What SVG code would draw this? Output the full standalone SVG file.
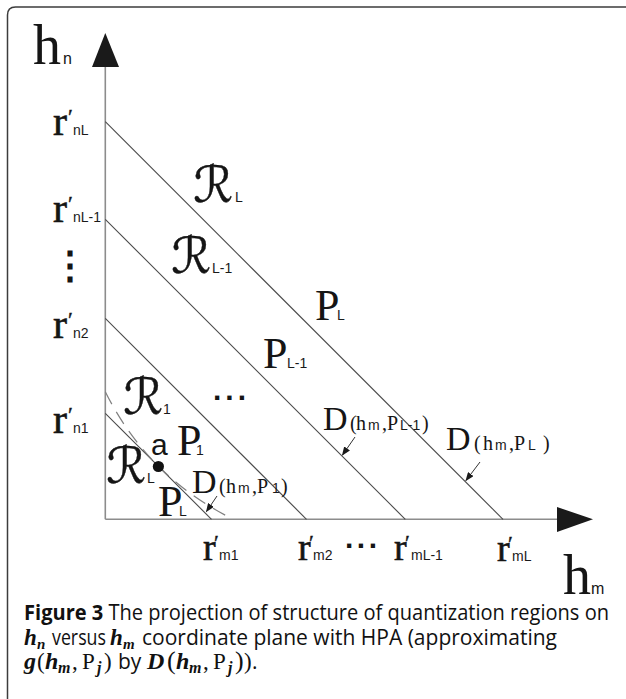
<svg xmlns="http://www.w3.org/2000/svg" width="626" height="699" viewBox="0 0 626 699">
<style>
.frame{fill:none;stroke:#3c3c3c;stroke-width:1.5}
.ax{fill:none;stroke:#8c8c8c;stroke-width:1.6}
.dg{fill:none;stroke:#4a4a4a;stroke-width:1.1}
.ds{fill:none;stroke:#808080;stroke-width:1.2;stroke-dasharray:14 9}
.ld{fill:none;stroke:#333;stroke-width:1}
.head{fill:#1a1a1a}
.sf{font-family:"Liberation Serif","Times New Roman",serif;fill:#151515}
.ss{font-family:"Liberation Sans",Arial,sans-serif;fill:#151515}
.big{font-size:56px}
.rn{font-size:42px;stroke:#151515;stroke-width:0.6}
.rm{font-size:38px;stroke:#151515;stroke-width:0.6}
.pr{font-size:22px;stroke-width:0.4}
.sb{font-family:"Liberation Sans",Arial,sans-serif;font-size:14px;fill:#1a1a1a;stroke:none}
.scr{font-family:"DejaVu Serif","DejaVu Sans",serif;font-size:50px;fill:#151515;stroke:#151515;stroke-width:0.4}
.P{font-size:44px}
.D{font-size:34px}
.fp{font-size:20px}
.cap{font-family:"Open Sans","Liberation Sans",sans-serif;font-size:21px;fill:#111}
.mi{font-family:"Liberation Serif","Times New Roman",serif;font-style:italic;font-weight:bold}
.mu{font-family:"Liberation Serif","Times New Roman",serif}
</style>
<defs>
<marker id="ah" markerWidth="9" markerHeight="7" refX="8" refY="3.5" orient="auto" markerUnits="userSpaceOnUse">
<path d="M0,0 L9,3.5 L0,7 z" fill="#1a1a1a"/>
</marker>
</defs>

<path class="frame" d="M7.5,699 V15 Q7.5,7 15.5,7 H626"/>

<g id="axes">
<line class="ax" x1="105.3" y1="66" x2="105.3" y2="519.3"/>
<line class="ax" x1="105.3" y1="519.3" x2="558" y2="519.3"/>
<polygon class="head" points="105.3,33 92,67 119,67"/>
<polygon class="head" points="593,519.3 557,507 557,532"/>
</g>

<g id="lines">
<line class="dg" x1="105.3" y1="121.7" x2="503" y2="519.3"/>
<line class="dg" x1="105.3" y1="219.3" x2="405.3" y2="519.3"/>
<line class="dg" x1="105.3" y1="318.3" x2="306.5" y2="519.3"/>
<line class="dg" x1="105.3" y1="413.3" x2="211.5" y2="519.3"/>
<path class="ds" d="M105.3,391.7 Q147.7,477.1 233.3,519.3"/>
</g>

<g id="point-a">
<circle cx="158.4" cy="466.5" r="5.6" fill="#111"/>
<text class="ss" x="151" y="455" font-size="30">a</text>
</g>

<g id="axis-labels">
<text class="sf big" x="33" y="64">h<tspan class="ss" x="63" y="64" font-size="16">n</tspan></text>
<text class="sf big" x="563" y="594">h<tspan class="ss" x="591" y="594" font-size="16">m</tspan></text>
</g>

<g id="ticks-n">
<text class="sf rn" x="53" y="135">r<tspan class="pr" x="68" y="124">′</tspan><tspan class="sb" x="73" y="135">nL</tspan></text>
<text class="sf rn" x="53" y="222">r<tspan class="pr" x="68" y="211">′</tspan><tspan class="sb" x="73" y="222">nL-1</tspan></text>
<text class="ss" x="51" y="279" font-size="38" font-weight="bold" font-family="DejaVu Sans">⋮</text>
<text class="sf rn" x="53" y="338">r<tspan class="pr" x="68" y="327">′</tspan><tspan class="sb" x="73" y="338">n2</tspan></text>
<text class="sf rn" x="53" y="433">r<tspan class="pr" x="68" y="422">′</tspan><tspan class="sb" x="73" y="433">n1</tspan></text>
</g>

<g id="ticks-m">
<text class="sf rm" x="203" y="560">r<tspan class="pr" x="214" y="550">′</tspan><tspan class="sb" x="219" y="560">m1</tspan></text>
<text class="sf rm" x="298" y="560">r<tspan class="pr" x="309" y="550">′</tspan><tspan class="sb" x="313" y="560">m2</tspan><tspan class="ss" x="345" y="548" font-size="30" font-weight="bold" letter-spacing="3.5" stroke="none">...</tspan></text>
<text class="sf rm" x="394" y="560">r<tspan class="pr" x="405" y="550">′</tspan><tspan class="sb" x="411" y="560">mL-1</tspan></text>
<text class="sf rm" x="497" y="561">r<tspan class="pr" x="508" y="551">′</tspan><tspan class="sb" x="512" y="561">mL</tspan></text>
</g>

<g id="regions">
<text class="scr" x="193" y="202">ℛ<tspan class="sb" x="235" y="202">L</tspan></text>
<text class="scr" x="171" y="273">ℛ<tspan class="sb" x="212" y="273">L-1</tspan></text>
<text class="scr" x="123" y="414">ℛ<tspan class="sb" x="163" y="414">1</tspan></text>
<text class="scr" x="106" y="483">ℛ<tspan class="sb" x="147" y="483">L</tspan></text>
<text class="ss" x="213" y="400" font-size="30" font-weight="bold" letter-spacing="4">...</text>
</g>

<g id="powers">
<text class="sf P" x="315" y="320">P<tspan class="sb" x="337" y="320">L</tspan></text>
<text class="sf P" x="263" y="368">P<tspan class="sb" x="287" y="368">L-1</tspan></text>
<text class="sf P" x="177" y="455">P<tspan class="sb" x="196" y="455">1</tspan></text>
<text class="sf P" x="158" y="516">P<tspan class="sb" x="179" y="516">L</tspan></text>
</g>

<g id="d-labels">
<text class="sf" y="493"><tspan class="D" x="192">D</tspan><tspan class="fp" x="219">(</tspan><tspan class="fp" x="226">h</tspan><tspan class="sb" x="238">m</tspan><tspan class="fp" x="252">,P</tspan><tspan class="sb" x="272">1</tspan><tspan class="fp" x="281">)</tspan></text>
<text class="sf" y="430"><tspan class="D" x="323">D</tspan><tspan class="fp" x="350">(</tspan><tspan class="fp" x="356">h</tspan><tspan class="sb" x="368">m</tspan><tspan class="fp" x="382">,P</tspan><tspan class="sb" x="400">L-1</tspan><tspan class="fp" x="422">)</tspan></text>
<text class="sf" y="450"><tspan class="D" x="446">D</tspan><tspan class="fp" x="474">(</tspan><tspan class="fp" x="483">h</tspan><tspan class="sb" x="495">m</tspan><tspan class="fp" x="509">,P</tspan><tspan class="sb" x="528">L</tspan><tspan class="fp" x="543">)</tspan></text>
</g>

<g id="connectors">
<line class="ld" x1="217" y1="496" x2="206.5" y2="511.5" marker-end="url(#ah)"/>
<line class="ld" x1="355" y1="437" x2="342.5" y2="455" marker-end="url(#ah)"/>
<line class="ld" x1="480" y1="462" x2="466" y2="480.5" marker-end="url(#ah)"/>
</g>

<g id="caption">
<text class="cap" x="24" y="620" font-size="19" textLength="585" lengthAdjust="spacingAndGlyphs"><tspan font-weight="bold">Figure 3</tspan> The projection of structure of quantization regions on</text>
<text class="cap" y="645"><tspan class="mi" x="24" font-size="23">h</tspan><tspan class="mi" x="37" y="649" font-size="15">n</tspan><tspan x="52" y="645" textLength="54" lengthAdjust="spacingAndGlyphs">versus</tspan><tspan class="mi" x="110" font-size="23">h</tspan><tspan class="mi" x="123" y="649" font-size="15">m</tspan><tspan x="142" y="645" textLength="415" lengthAdjust="spacingAndGlyphs">coordinate plane with HPA (approximating</tspan></text>
<text class="cap" y="669"><tspan class="mi" x="24" font-size="24">g</tspan><tspan class="mu" x="37" font-size="23">(</tspan><tspan class="mi" x="45" font-size="24">h</tspan><tspan class="mi" x="58" y="673" font-size="16">m</tspan><tspan class="mu" x="72" y="669" font-size="23">,</tspan><tspan class="mu" x="82" font-size="23">P</tspan><tspan class="mi" x="97" y="673" font-size="16">j</tspan><tspan class="mu" x="104" y="669" font-size="23">)</tspan><tspan x="118">by</tspan><tspan class="mi" x="147" font-size="24">D</tspan><tspan class="mu" x="167" font-size="26">(</tspan><tspan class="mi" x="176" font-size="24">h</tspan><tspan class="mi" x="189" y="673" font-size="16">m</tspan><tspan class="mu" x="203" y="669" font-size="23">,</tspan><tspan class="mu" x="213" font-size="23">P</tspan><tspan class="mi" x="228" y="673" font-size="16">j</tspan><tspan class="mu" x="235" y="669" font-size="26">)</tspan><tspan class="mu" x="244" font-size="23">)</tspan><tspan x="252">.</tspan></text>
</g>
</svg>
